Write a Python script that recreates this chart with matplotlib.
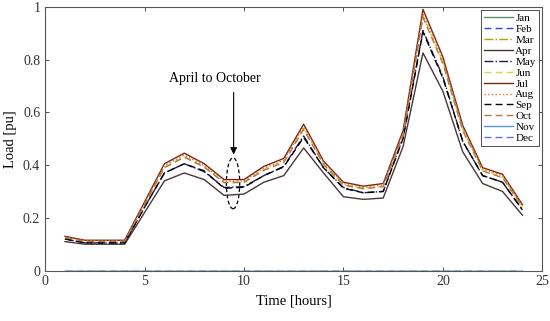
import matplotlib
matplotlib.use("Agg")
import matplotlib.pyplot as plt
from matplotlib.patches import Ellipse
from matplotlib.ticker import FuncFormatter

# ── data ──────────────────────────────────────────────────────────────────────
hours = list(range(1, 25))

zero = [0, 0, 0, 0, 0, 0, 0, 0, 0, 0, 0, 0,
        0, 0, 0, 0, 0, 0, 0, 0, 0, 0, 0, 0]

apr = [0.110, 0.100, 0.100, 0.100, 0.220, 0.340, 0.370, 0.345, 0.285, 0.290, 0.335, 0.360,
       0.465, 0.370, 0.280, 0.270, 0.275, 0.470, 0.825, 0.680, 0.450, 0.330, 0.300, 0.210]
may = [0.120, 0.105, 0.105, 0.105, 0.240, 0.370, 0.405, 0.375, 0.315, 0.318, 0.360, 0.395,
       0.510, 0.390, 0.315, 0.295, 0.300, 0.505, 0.910, 0.735, 0.490, 0.360, 0.335, 0.230]
sep = [0.120, 0.105, 0.105, 0.105, 0.240, 0.370, 0.405, 0.378, 0.312, 0.316, 0.360, 0.393,
       0.505, 0.390, 0.312, 0.295, 0.300, 0.500, 0.905, 0.730, 0.490, 0.360, 0.335, 0.230]
jun = [0.126, 0.112, 0.112, 0.112, 0.252, 0.392, 0.432, 0.394, 0.335, 0.336, 0.383, 0.413,
       0.540, 0.405, 0.326, 0.312, 0.320, 0.515, 0.965, 0.790, 0.535, 0.380, 0.355, 0.242]
jul = [0.130, 0.115, 0.115, 0.115, 0.260, 0.405, 0.445, 0.405, 0.345, 0.345, 0.395, 0.425,
       0.555, 0.415, 0.335, 0.320, 0.330, 0.530, 0.990, 0.810, 0.550, 0.390, 0.365, 0.250]
aug = [0.128, 0.113, 0.113, 0.113, 0.255, 0.398, 0.438, 0.398, 0.338, 0.340, 0.388, 0.418,
       0.545, 0.410, 0.330, 0.315, 0.325, 0.520, 0.975, 0.800, 0.540, 0.385, 0.360, 0.245]
oct_ = [0.125, 0.111, 0.111, 0.111, 0.250, 0.390, 0.430, 0.392, 0.333, 0.334, 0.380, 0.410,
        0.535, 0.402, 0.324, 0.310, 0.318, 0.512, 0.960, 0.785, 0.530, 0.378, 0.352, 0.240]

months = ["Jan", "Feb", "Mar", "Apr", "May", "Jun",
          "Jul", "Aug", "Sep", "Oct", "Nov", "Dec"]
series = [zero, zero, zero, apr, may, jun, jul, aug, sep, oct_, zero, zero]

# ── styles ────────────────────────────────────────────────────────────────────
styles = [
    ("#5f8f6a", "-"),
    ("#3b3bff", (0, (5, 3))),
    ("#b5a000", "-."),
    ("#4a3636", "-"),
    ("#1c1c5c", "-."),
    ("#d6d64a", (0, (5, 3))),
    ("#7a2418", "-"),
    ("#d9762a", ":"),
    ("#000000", (0, (5, 3))),
    ("#b07a48", (0, (5, 3))),
    ("#5b93e0", "-"),
    ("#5a78c8", (0, (5, 3))),
]

plt.rcParams.update({
    "font.family": ["Liberation Serif", "DejaVu Serif"],
    "xtick.direction": "in",
    "ytick.direction": "in",
    "xtick.top": True,
    "ytick.right": True,
    "axes.edgecolor": "#555555",
})

fig = plt.figure(figsize=(5.5, 3.21), dpi=100)
ax = fig.add_axes([0.082, 0.157, 0.904, 0.822])

for name, vals, (col, ls) in zip(months, series, styles):
    ax.plot(hours, vals, color=col, linestyle=ls, linewidth=1.0, label=name)

# annotation: label, arrow and dashed ellipse round the Apr–Oct cluster
ax.text(8.55, 0.705, "April to October", fontsize=10, ha="center", va="bottom")
ax.annotate("", xy=(9.48, 0.44), xytext=(9.48, 0.675),
            arrowprops=dict(arrowstyle="-|>", color="black", lw=0.8,
                            mutation_scale=10, shrinkA=0, shrinkB=0))
ax.add_patch(Ellipse((9.45, 0.331), 0.67, 0.193, fill=False,
                     edgecolor="black", linestyle=(0, (3, 2)), lw=0.9))

ax.set_xlim(0, 25)
ax.set_ylim(0, 1)
ax.set_xticks([0, 5, 10, 15, 20, 25])
ax.set_yticks([0, 0.2, 0.4, 0.6, 0.8, 1.0])
ax.yaxis.set_major_formatter(FuncFormatter(lambda v, p: f"{v:g}"))
ax.tick_params(labelsize=10, length=3, width=0.6, colors="#333333")
ax.set_xlabel("Time [hours]", fontsize=10.5)
ax.set_ylabel("Load [pu]", fontsize=10.5)

leg = ax.legend(loc="upper right", fontsize=8, handlelength=2.6,
                handletextpad=0.2, labelspacing=0.1, borderpad=0.3,
                fancybox=False, framealpha=1, borderaxespad=0.3)
leg.get_frame().set_edgecolor("#333333")
leg.get_frame().set_linewidth(0.6)

fig.savefig("out.png", dpi=100)
